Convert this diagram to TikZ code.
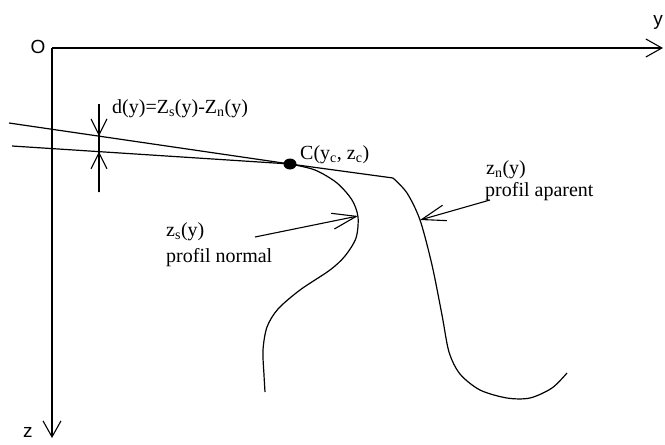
\documentclass[tikz,border=0pt]{standalone}
\usepackage{fontspec}
\setmainfont{Liberation Serif}
\setsansfont{Liberation Sans}
\usetikzlibrary{arrows.meta,shapes.geometric}

\begin{document}
\begin{tikzpicture}[x=1pt,y=-1pt,
					axisline/.style={line width=1.3pt, -{Straight Barb[length=16pt,width=18pt,line width=1.1pt]}},
					curveline/.style={line width=1.2pt},
					pointer/.style={line width=1.1pt, -{Straight Barb[length=24pt,width=16pt,line width=1.1pt]}},
					dimline/.style={line width=1.1pt, -{Straight Barb[length=16pt,width=16pt,line width=1.1pt]}},
					txt/.style={inner sep=0pt, font=\fontsize{20}{24}\selectfont},
					axtxt/.style={inner sep=0pt, font=\sffamily\fontsize{19}{22}\selectfont},
					]
					\useasboundingbox (0,0) rectangle (665,445);
					%Points
					\coordinate (O)     at (52,48);
					\coordinate (yend)  at (663,48);
					\coordinate (zend)  at (52,438);
					\coordinate (Cpt)   at (290,164);
					\coordinate (a1)    at (9,123);
					\coordinate (a2)    at (12,146);
					\coordinate (dtop)  at (99,104);
					\coordinate (dbot)  at (99,192);
					\coordinate (dup)   at (intersection of a1--Cpt and dtop--dbot);
					\coordinate (dlow)  at (intersection of a2--Cpt and dtop--dbot);
					\coordinate (knee)  at (393,178);
					\coordinate (zstip) at (358,216);
					\coordinate (zntip) at (420,220);
					\coordinate (zstail) at (255,237);
					\coordinate (zntail) at (490,200);
					
					%Nodes
					\node[axtxt]                  (Olbl) at (38,47)  {O};
					\node[axtxt]                  (ylbl) at (658,22) {y};
					\node[axtxt]                  (zlbl) at (28,432) {z};
					\node[txt, anchor=base west]  (dlbl) at (112,113) {d(y)=Z\textsubscript{s}(y)-Z\textsubscript{n}(y)};
					\node[txt, anchor=base west]  (Clbl) at (300,159) {C(y\textsubscript{c}, z\textsubscript{c})};
					\node[txt, anchor=base west]  (zs1)  at (166,236) {z\textsubscript{s}(y)};
					\node[txt, anchor=base west]  (zs2)  at (166,262) {profil normal};
					\node[txt, anchor=base west]  (zn1)  at (486,174) {z\textsubscript{n}(y)};
					\node[txt, anchor=base west]  (zn2)  at (485,196) {profil aparent};
					
					%Axes
					\draw[axisline] (O) -- (yend);
					\draw[axisline] (O) -- (zend);
					
					%Lines
					\draw[curveline] (a1) -- (Cpt);
					\draw[curveline] (a2) -- (Cpt);
					\draw[curveline] (dtop) -- (dbot);
					\draw[dimline] (dtop) -- (dup);
					\draw[dimline] (dbot) -- (dlow);
					
					%Profiles
					\draw[curveline] (Cpt) -- (knee)
						plot[smooth] coordinates {(393,178) (407,193) (420,220) (432,265) (442,315) (449,352) (460,374) (480,390) (507,398) (530,398) (552,388) (567,373)};
					\draw[curveline] plot[smooth] coordinates {(290,164) (315,170) (337,183) (352,200) (358,217) (356,238) (345,256) (330,270) (300,290) (278,309) (267,327) (263,350) (264,375) (265,392)};
					\node[ellipse, fill=black, inner sep=0pt, minimum width=13pt, minimum height=11pt] (C) at (Cpt) {};
					
					%Pointers
					\draw[pointer] (zstail) -- (zstip);
					\draw[pointer] (zntail) -- (zntip);
				\end{tikzpicture}
\end{document}
